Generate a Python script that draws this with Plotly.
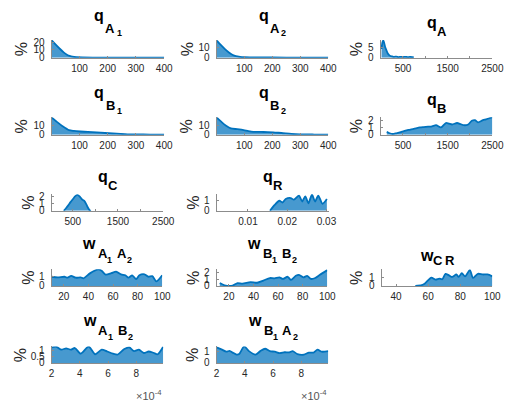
import plotly.graph_objects as go

W, H = 515, 408

# ---------------- data ----------------
q_A1_x = [2, 15, 30, 45, 57, 65, 75, 90, 110, 150, 200, 300, 400]
q_A1_y = [22, 17, 11.5, 6.5, 3.5, 2.2, 1.2, 0.6, 0.3, 0.15, 0.1, 0.1, 0.1]

q_A2_x = [2, 15, 30, 45, 59, 70, 85, 100, 130, 200, 300, 400]
q_A2_y = [16.5, 12.5, 8.5, 5, 2.5, 1.4, 0.8, 0.5, 0.3, 0.15, 0.1, 0.1]

q_A_x = [20, 40, 60, 80, 100, 130, 160, 190, 220, 260, 300, 350, 400, 450, 500, 550, 600, 650, 700, 740]
q_A_y = [4.2, 7.5, 8.3, 7.0, 5.2, 3.5, 2.0, 1.2, 0.8, 0.6, 0.4, 0.5, 0.3, 0.4, 0.3, 0.4, 0.25, 0.35, 0.3, 0.3]

q_B1_x = [2, 20, 40, 63, 80, 103, 130, 161, 190, 218, 245, 270, 300, 350, 400]
q_B1_y = [18, 13.5, 9, 4.8, 4.0, 3.4, 2.9, 2.4, 1.8, 1.3, 0.8, 0.4, 0.25, 0.2, 0.2]

q_B2_x = [2, 20, 35, 52, 75, 98, 115, 132, 160, 184, 210, 233, 268, 300, 350, 400]
q_B2_y = [18, 13, 9.5, 6.7, 5.8, 4.8, 3.8, 3.1, 2.9, 2.8, 2.3, 1.8, 0.8, 0.3, 0.2, 0.2]

q_B_x = [137, 200, 270, 350, 450, 520, 620, 740, 880, 960, 1060, 1150, 1240, 1350, 1460, 1530,
         1600, 1710, 1790, 1860, 1960, 2040, 2110, 2180, 2290, 2360, 2430, 2500]
q_B_y = [0.4, 0.2, 0.1, 0.2, 0.35, 0.5, 0.65, 0.8, 1.0, 1.05, 1.1, 1.15, 1.3, 1.0, 1.6, 1.5,
         1.4, 1.6, 1.45, 1.3, 1.4, 1.9, 2.0, 1.7, 2.0, 2.1, 2.25, 2.4]

q_C_x = [300, 350, 400, 450, 500, 550, 600, 650, 700, 750, 800, 830, 870, 900]
q_C_y = [0, 0.35, 0.75, 1.2, 1.6, 2.0, 2.2, 2.0, 1.6, 1.4, 0.9, 0.5, 0.1, 0]

q_R_x = [0.0156, 0.0168, 0.0180, 0.0188, 0.0196, 0.0209, 0.0217, 0.0230, 0.0238, 0.0246,
         0.0254, 0.0263, 0.0271, 0.0279, 0.0290, 0.0301]
q_R_y = [0, 0.57, 0.97, 0.8, 1.13, 1.23, 1.07, 1.47, 0.9, 1.4, 0.73, 1.57, 0.9, 1.47, 0.67, 1.13]

w_A1A2_x = [10, 15, 20.5, 23, 26, 29.7, 33.6, 36, 41.5, 48, 50.7, 54, 58.6, 62.5, 66.5, 70, 72.5,
            75.6, 78.8, 81.4, 85.6, 88.7, 91.9, 95.3, 100]
w_A1A2_y = [0.94, 0.88, 0.94, 0.84, 1.03, 0.84, 0.88, 0.78, 1.31, 1.69, 1.56, 1.16, 1.31, 1.47,
            1.19, 1.09, 0.84, 1.09, 0.69, 1.09, 1.19, 0.94, 1.0, 0.47, 1.09]

w_B1B2_x = [12.6, 16.5, 23, 27, 31, 37.6, 43, 48, 53.3, 57, 61, 63.9, 67.8, 70.5, 74.4, 77, 80.5,
            83.6, 86.7, 90.2, 94, 100]
w_B1B2_y = [0.43, 0.1, 0.05, 0.43, 0.33, 0.57, 0.48, 0.81, 1.19, 1.14, 1.29, 1.05, 1.38, 0.9,
            1.52, 1.67, 1.29, 1.52, 1.05, 1.19, 1.67, 2.38]

w_CR_x = [52, 56, 58, 62, 64.6, 67, 68.8, 70.8, 73, 75, 77.6, 79, 81, 83, 86, 88, 91, 94, 97, 100]
w_CR_y = [0, 0.1, 0.3, 1.0, 0.77, 0.88, 0.8, 1.46, 1.27, 1.08, 1.38, 1.08, 1.54, 1.15, 1.9,
          0.96, 1.46, 1.38, 1.38, 1.15]

w_A1B2_x = [2.0e-4, 2.34e-4, 2.69e-4, 3.03e-4, 3.37e-4, 3.65e-4, 4.06e-4, 4.63e-4, 5.09e-4,
            5.55e-4, 5.94e-4, 6.35e-4, 6.69e-4, 7.15e-4, 7.5e-4, 7.84e-4, 8.18e-4, 8.53e-4,
            8.87e-4, 9.21e-4, 9.51e-4, 9.9e-4]
w_A1B2_y = [1.25, 1.3, 1.07, 1.17, 1.07, 1.2, 0.75, 1.32, 0.7, 1.07, 0.92, 0.75, 0.68, 1.12,
            1.25, 0.95, 1.07, 0.8, 0.92, 0.82, 0.7, 1.3]

w_B1A2_x = [2.0e-4, 2.34e-4, 2.69e-4, 2.92e-4, 3.14e-4, 3.42e-4, 3.6e-4, 3.95e-4, 4.29e-4,
            4.75e-4, 5.09e-4, 5.43e-4, 5.77e-4, 6.12e-4, 6.47e-4, 6.81e-4, 7.15e-4, 7.38e-4,
            7.72e-4, 8.18e-4, 8.53e-4, 8.87e-4, 9.14e-4, 9.44e-4, 9.9e-4]
w_B1A2_y = [1.39, 1.21, 1.0, 1.08, 0.92, 0.74, 0.79, 1.47, 1.05, 0.74, 1.05, 1.26, 1.05, 1.0,
            0.87, 0.95, 0.95, 1.05, 0.79, 0.74, 0.92, 0.92, 1.18, 1.0, 1.05]

# tick settings
ticks_400 = [100, 200, 300, 400]
ticks_2500 = [500, 1500, 2500]
minor_2500 = [1000, 2000]
ticks_R = [0.01, 0.02, 0.03]
ticks_R_text = ['0.01', '0.02', '0.03']
ticks_100 = [20, 40, 60, 80, 100]
ticks_CR = [40, 60, 80, 100]
ticks_e4 = [2e-4, 4e-4, 6e-4, 8e-4]
ticks_e4_text = ['2', '4', '6', '8']

LINE = '#0072BD'
FILL = 'rgba(0,114,189,0.72)'
AXC = '#8c8c8c'
TXT = '#262626'
FONT = 'Liberation Sans, Arial, Helvetica, sans-serif'

# (x, y, box(l,t,r,b), xrange, yrange, xticks, xticktext, xminor, yticks, title kind, title parts, pct x)
panels = [
    (q_A1_x, q_A1_y, (50, 37, 166, 55), [1, 400], [0, 22.5], ticks_400, None, None, [0, 10, 20], 'q2', ['q', 'A', '1'], 19),
    (q_A2_x, q_A2_y, (220, 37, 335, 55), [1, 400], [0, 17], ticks_400, None, None, [0, 10], 'q2', ['q', 'A', '2'], 190),
    (q_A_x, q_A_y, (389, 37, 504, 55), [0, 2500], [0, 8.5], ticks_2500, None, minor_2500, [0, 5], 'q1', ['q', 'A'], 365),
    (q_B1_x, q_B1_y, (50, 116, 166, 134), [1, 400], [0, 18.5], ticks_400, None, None, [0, 10], 'q2', ['q', 'B', '1'], 19),
    (q_B2_x, q_B2_y, (220, 116, 335, 134), [1, 400], [0, 18.5], ticks_400, None, None, [0, 10], 'q2', ['q', 'B', '2'], 189),
    (q_B_x, q_B_y, (389, 116, 504, 134), [0, 2500], [0, 2.4], ticks_2500, None, minor_2500, [0, 1, 2], 'q1', ['q', 'B'], 365),
    (q_C_x, q_C_y, (50, 195, 165, 212), [30, 2500], [0, 2.3], ticks_2500, None, minor_2500, [0, 1, 2], 'q1', ['q', 'C'], 26),
    (q_R_x, q_R_y, (220, 195, 336, 212), [0.002, 0.0307], [0, 1.6], ticks_R, ticks_R_text, None, [0, 1], 'q1', ['q', 'R'], 196),
    (w_A1A2_x, w_A1A2_y, (50, 272, 164, 289), [10, 100], [0, 1.7], ticks_100, None, None, [0, 1], 'w4', ['w', 'A', '1', 'A', '2'], 26),
    (w_B1B2_x, w_B1B2_y, (220, 272, 334, 289), [10, 100], [0, 2.5], ticks_100, None, None, [0, 1, 2], 'w4', ['w', 'B', '1', 'B', '2'], 196),
    (w_CR_x, w_CR_y, (390, 272, 504, 289), [31, 100], [0, 2.0], ticks_CR, None, None, [0, 1], 'w2', ['w', 'C', 'R'], 364),
    (w_A1B2_x, w_A1B2_y, (50, 351, 165, 368), [2e-4, 9.9e-4], [0, 1.33], ticks_e4, ticks_e4_text, None, [0, 0.5, 1], 'w4', ['w', 'A', '1', 'B', '2'], 18),
    (w_B1A2_x, w_B1A2_y, (220, 351, 335, 368), [2e-4, 9.9e-4], [0, 1.47], ticks_e4, ticks_e4_text, None, [0, 1], 'w4', ['w', 'B', '1', 'A', '2'], 195),
]

# title layouts: (dx from box centre, dy from box top, font size)
TITLE_LAYOUT = {
    'q2': [(-9, -25, 16), (2.5, -12, 13), (11.5, -6.8, 9)],
    'q1': [(-5, -18.5, 16), (5.5, -8.5, 13)],
    'w4': [(-18, -26.5, 16), (-4.5, -16.5, 13), (3, -9.5, 9), (15.5, -16.5, 13), (23.5, -9.5, 9)],
    'w2': [(-10.5, -14.5, 16), (1, -9.5, 13), (13.5, -9.5, 13)],
}

fig = go.Figure()
annotations = []
layout = {}


def px(xp):
    return xp / W


def py(yp):
    return 1 - yp / H


for i, (xs, ys, box, xr, yr, xt, xtt, xm, yt, tkind, tparts, pctx) in enumerate(panels):
    n = '' if i == 0 else str(i + 1)
    l, t, r, b = box
    fig.add_trace(go.Scatter(
        x=xs, y=ys, mode='lines', fill='tozeroy', fillcolor=FILL,
        line=dict(color=LINE, width=1.8, shape='spline', smoothing=0.7),
        xaxis='x' + n, yaxis='y' + n, showlegend=False, hoverinfo='skip'))
    xa = dict(domain=[px(l), px(r)], range=xr, anchor='y' + n, showgrid=False, zeroline=False,
              showline=True, linecolor=AXC, linewidth=1, ticks='inside', ticklen=2, tickcolor=AXC,
              tickvals=xt, tickangle=0, tickfont=dict(family=FONT, size=10, color=TXT),
              ticklabelstandoff=1)
    if xtt is not None:
        xa['ticktext'] = xtt
    if xm is not None:
        xa['minor'] = dict(tickvals=xm, ticks='inside', ticklen=2, tickcolor=AXC, showgrid=False)
    ya = dict(domain=[py(b), py(t)], range=yr, anchor='x' + n, showgrid=False, zeroline=False,
              showline=True, linecolor=AXC, linewidth=1, ticks='inside', ticklen=2, tickcolor=AXC,
              tickvals=yt, tickfont=dict(family=FONT, size=10, color=TXT), ticklabelstandoff=4)
    layout['xaxis' + n] = xa
    layout['yaxis' + n] = ya

    # y label
    annotations.append(dict(text='%', x=px(pctx), y=py((t + b) / 2), xref='paper', yref='paper',
                            showarrow=False, textangle=-90, xanchor='center', yanchor='middle',
                            font=dict(family=FONT, size=16, color=TXT)))
    # title pieces
    cx = (l + r) / 2
    for part, (dx, dy, fs) in zip(tparts, TITLE_LAYOUT[tkind]):
        annotations.append(dict(text='<b>' + part + '</b>', x=px(cx + dx), y=py(t + dy),
                                xref='paper', yref='paper', showarrow=False,
                                xanchor='center', yanchor='middle',
                                font=dict(family=FONT, size=fs, color='#000000')))

# exponent labels for the last two panels
for (l, r) in [(50, 165), (220, 335)]:
    annotations.append(dict(text='×10<sup>-4</sup>', x=px(r + 1), y=py(401), xref='paper',
                            yref='paper', showarrow=False, xanchor='right', yanchor='middle',
                            font=dict(family=FONT, size=11, color='#555555')))

fig.update_layout(width=W, height=H, margin=dict(l=0, r=0, t=0, b=0),
                  paper_bgcolor='white', plot_bgcolor='white', annotations=annotations,
                  **layout)
fig.write_html('out.html')
